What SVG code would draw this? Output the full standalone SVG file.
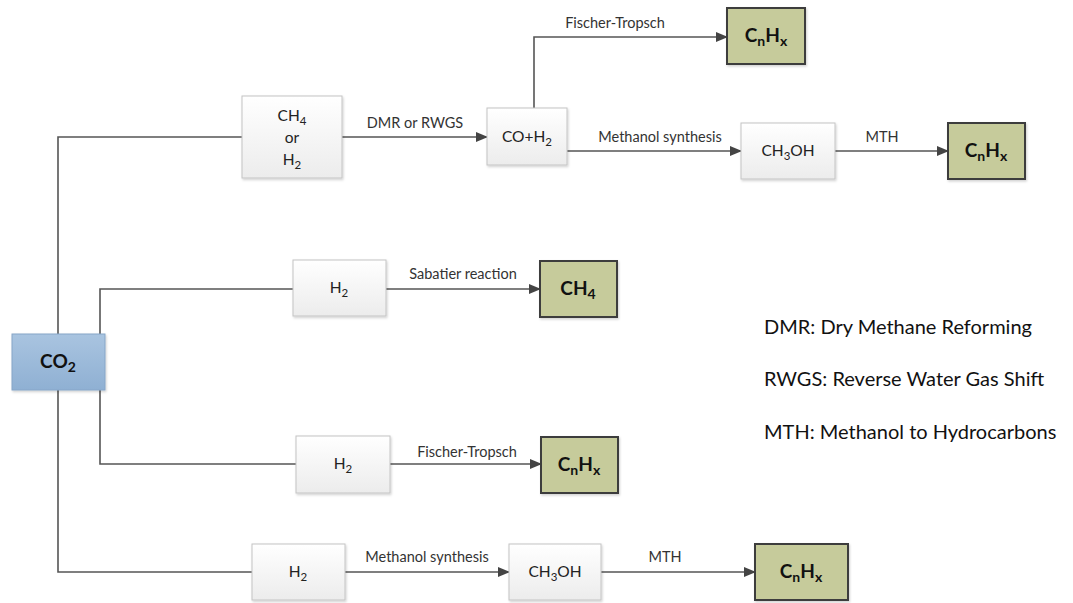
<svg xmlns="http://www.w3.org/2000/svg" width="1073" height="603" viewBox="0 0 1073 603">
  <defs>
    <linearGradient id="gWhite" x1="0" y1="0" x2="0" y2="1">
      <stop offset="0" stop-color="#ffffff"/>
      <stop offset="1" stop-color="#ececec"/>
    </linearGradient>
    <linearGradient id="gBlue" x1="0" y1="0" x2="0" y2="1">
      <stop offset="0" stop-color="#a9c4e0"/>
      <stop offset="1" stop-color="#8fb0d3"/>
    </linearGradient>
    <filter id="shadow" x="-10%" y="-10%" width="125%" height="130%">
      <feDropShadow dx="1" dy="1.5" stdDeviation="1" flood-color="#000" flood-opacity="0.18"/>
    </filter>
    <marker id="arrow" markerUnits="userSpaceOnUse" markerWidth="12" markerHeight="10" refX="11" refY="5" orient="auto">
      <path d="M0,0 L12,5 L0,10 Z" fill="#444"/>
    </marker>
    <style>
      .node { fill: url(#gWhite); stroke: #c4c4c4; stroke-width: 1; filter: url(#shadow); }
      .prod { fill: #c6cb9b; stroke: #3d3d3d; stroke-width: 2; filter: url(#shadow); }
      .src { fill: url(#gBlue); stroke: #86a6c8; stroke-width: 1; filter: url(#shadow); }
      .t { font-family: Lato, "Open Sans", sans-serif; font-size: 15.5px; fill: #222; text-anchor: middle; }
      .b { font-family: Lato, "Open Sans", sans-serif; font-size: 19px; font-weight: bold; fill: #111; text-anchor: middle; }
      .lbl { font-family: Lato, "Open Sans", sans-serif; font-size: 14.5px; fill: #333; text-anchor: middle; }
      .leg { font-family: Lato, "Open Sans", sans-serif; font-size: 20px; fill: #111; }
      .wire { fill: none; stroke: #555; stroke-width: 1.6; }
      .sub { font-size: 11.5px; }
      .bsub { font-size: 14px; }
    </style>
  </defs>

  <rect width="1073" height="603" fill="#ffffff"/>

  <!-- connectors -->
  <g id="connectors">
    <path class="wire" d="M58,334 V137 H242"/>
    <path class="wire" d="M58,390 V572 H252"/>
    <path class="wire" d="M100,334 V289 H293"/>
    <path class="wire" d="M100,390 V464 H296"/>
    <path class="wire" d="M342,137 H487" marker-end="url(#arrow)"/>
    <path class="wire" d="M534,108 V37 H727" marker-end="url(#arrow)"/>
    <path class="wire" d="M567,151 H741" marker-end="url(#arrow)"/>
    <path class="wire" d="M835,151 H948" marker-end="url(#arrow)"/>
    <path class="wire" d="M386,289 H540" marker-end="url(#arrow)"/>
    <path class="wire" d="M390,464 H541" marker-end="url(#arrow)"/>
    <path class="wire" d="M345,572 H509" marker-end="url(#arrow)"/>
    <path class="wire" d="M601,572 H755" marker-end="url(#arrow)"/>
    <text class="lbl" x="415" y="128">DMR or RWGS</text>
    <text class="lbl" x="615" y="28">Fischer-Tropsch</text>
    <text class="lbl" x="660" y="142">Methanol synthesis</text>
    <text class="lbl" x="882" y="142">MTH</text>
    <text class="lbl" x="463" y="279">Sabatier reaction</text>
    <text class="lbl" x="467" y="457">Fischer-Tropsch</text>
    <text class="lbl" x="427" y="562">Methanol synthesis</text>
    <text class="lbl" x="665" y="562">MTH</text>
  </g>

  <!-- source -->
  <g id="co2">
    <rect class="src" x="12" y="334" width="93" height="56"/>
    <text class="b" x="58" y="368">CO<tspan class="bsub" dy="4">2</tspan></text>
  </g>

  <!-- upper route via syngas -->
  <g id="ch4-or-h2">
    <rect class="node" x="242" y="96" width="100" height="82"/>
    <text class="t" x="292" y="121">CH<tspan class="sub" dy="3.5">4</tspan></text>
    <text class="t" x="292" y="143">or</text>
    <text class="t" x="292" y="165">H<tspan class="sub" dy="3.5">2</tspan></text>
  </g>
  <g id="syngas">
    <rect class="node" x="487" y="108" width="80" height="57"/>
    <text class="t" x="527" y="142">CO+H<tspan class="sub" dy="3.5">2</tspan></text>
  </g>
  <g id="cnhx-ft-top">
    <rect class="prod" x="727" y="8" width="78" height="56"/>
    <text class="b" x="766" y="42">C<tspan class="bsub" dy="4">n</tspan><tspan dy="-4">H</tspan><tspan class="bsub" dy="4">x</tspan></text>
  </g>
  <g id="methanol-top">
    <rect class="node" x="741" y="123" width="94" height="56"/>
    <text class="t" x="788" y="156">CH<tspan class="sub" dy="3.5">3</tspan><tspan dy="-3.5">OH</tspan></text>
  </g>
  <g id="cnhx-mth-top">
    <rect class="prod" x="948" y="123" width="77" height="56"/>
    <text class="b" x="986" y="157">C<tspan class="bsub" dy="4">n</tspan><tspan dy="-4">H</tspan><tspan class="bsub" dy="4">x</tspan></text>
  </g>

  <!-- Sabatier route -->
  <g id="h2-sabatier">
    <rect class="node" x="293" y="260" width="93" height="56"/>
    <text class="t" x="339" y="293">H<tspan class="sub" dy="3.5">2</tspan></text>
  </g>
  <g id="ch4-product">
    <rect class="prod" x="540" y="261" width="77" height="56"/>
    <text class="b" x="578" y="295">CH<tspan class="bsub" dy="4">4</tspan></text>
  </g>

  <!-- direct Fischer-Tropsch route -->
  <g id="h2-ft">
    <rect class="node" x="296" y="436" width="94" height="57"/>
    <text class="t" x="343" y="469">H<tspan class="sub" dy="3.5">2</tspan></text>
  </g>
  <g id="cnhx-ft">
    <rect class="prod" x="541" y="437" width="77" height="56"/>
    <text class="b" x="579" y="471">C<tspan class="bsub" dy="4">n</tspan><tspan dy="-4">H</tspan><tspan class="bsub" dy="4">x</tspan></text>
  </g>

  <!-- methanol route -->
  <g id="h2-methanol">
    <rect class="node" x="252" y="544" width="93" height="56"/>
    <text class="t" x="298" y="577">H<tspan class="sub" dy="3.5">2</tspan></text>
  </g>
  <g id="methanol-bottom">
    <rect class="node" x="509" y="544" width="92" height="56"/>
    <text class="t" x="555" y="577">CH<tspan class="sub" dy="3.5">3</tspan><tspan dy="-3.5">OH</tspan></text>
  </g>
  <g id="cnhx-mth-bottom">
    <rect class="prod" x="755" y="544" width="93" height="56"/>
    <text class="b" x="801" y="578">C<tspan class="bsub" dy="4">n</tspan><tspan dy="-4">H</tspan><tspan class="bsub" dy="4">x</tspan></text>
  </g>

  <!-- abbreviations -->
  <g id="legend">
    <text class="leg" x="764" y="334">DMR: Dry Methane Reforming</text>
    <text class="leg" x="764" y="386">RWGS: Reverse Water Gas Shift</text>
    <text class="leg" x="764" y="439">MTH: Methanol to Hydrocarbons</text>
  </g>
</svg>
